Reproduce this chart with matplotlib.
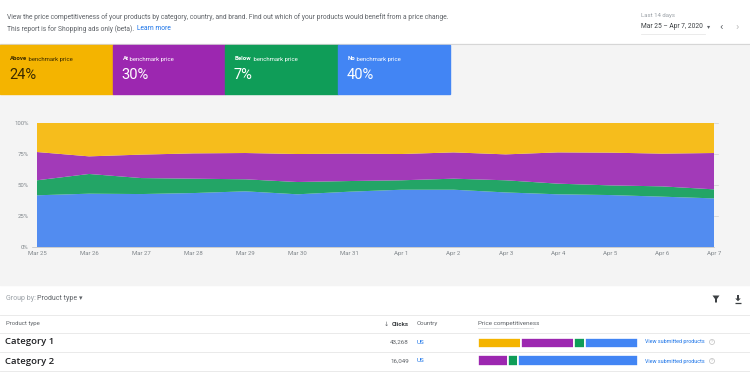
import matplotlib
matplotlib.use("Agg")
import matplotlib.pyplot as plt
from matplotlib.patches import Rectangle, Polygon
import numpy as np

plt.rcParams['font.family'] = ['Roboto', 'DejaVu Sans']

# ---------------- data ----------------
dates = ["Mar 25", "Mar 26", "Mar 27", "Mar 28", "Mar 29", "Mar 30", "Mar 31",
         "Apr 1", "Apr 2", "Apr 3", "Apr 4", "Apr 5", "Apr 6", "Apr 7"]
no_benchmark = [41.7, 43.0, 42.7, 43.5, 44.9, 42.5, 44.6, 46.2, 46.2, 44.0, 42.5, 41.9, 40.6, 39.2]
below = [12.1, 15.9, 12.9, 11.6, 9.7, 9.9, 8.6, 7.6, 8.9, 9.8, 8.6, 7.8, 8.3, 7.3]
at = [22.8, 14.2, 18.9, 20.4, 21.2, 22.6, 22.1, 21.2, 21.2, 20.9, 25.2, 26.4, 26.4, 29.3]
above = [23.4, 26.9, 25.5, 24.5, 24.2, 25.0, 24.7, 25.0, 23.7, 25.3, 23.7, 23.9, 24.7, 24.2]
y_ticks = [0, 25, 50, 75, 100]
y_tick_labels = ["0%", "25%", "50%", "75%", "100%"]

card_bold = ["Above", "At", "Below", "No"]
card_rest = [" benchmark price", " benchmark price", " benchmark price", " benchmark price"]
card_values = [24, 30, 7, 40]

categories = ["Category 1", "Category 2"]
clicks = ["43,268", "16,049"]
countries = ["US", "US"]
# share of each bucket in the table bars: above, at, below, none
row_above = [27, 0]
row_at = [33, 19]
row_below = [7, 6]
row_none = [33, 75]

# ---------------- styles ----------------
card_colors = ["#F4B400", "#9C27B0", "#0F9D58", "#4285F4"]
card_text_colors = ["#3a2a00", "white", "white", "white"]
chart_colors = ["#528CF0", "#23A566", "#A23AB8", "#F6BD1C"]  # none, below, at, above
bar_colors = ["#F4B400", "#9C27B0", "#0F9D58", "#4285F4"]
W, H = 750, 375

fig = plt.figure(figsize=(7.5, 3.75), dpi=100)
fig.patch.set_facecolor("white")

bg = fig.add_axes([0, 0, 1, 1])
bg.set_xlim(0, W)
bg.set_ylim(H, 0)
bg.axis("off")

# gray page body
bg.add_patch(Rectangle((0, 44), W, 241, color="#F4F4F4", zorder=0))
bg.plot([0, W], [44, 44], color="#D6D6D6", lw=0.8, zorder=1)

# header text
bg.text(7, 17, "View the price competitiveness of your products by category, country, and brand. "
        "Find out which of your products would benefit from a price change.",
        fontsize=4.9, color="#5f6368", va="center")
bg.text(7, 29, "This report is for Shopping ads only (beta).", fontsize=4.9,
        color="#5f6368", va="center")
bg.text(137, 29, "Learn more", fontsize=4.9, color="#1a73e8", va="center")

# date picker
bg.text(641, 16, "Last 14 days", fontsize=4.3, color="#9aa0a6", va="center")
bg.text(641, 27, "Mar 25 \u2013 Apr 7, 2020", fontsize=4.8, color="#3c4043", va="center")
bg.plot([641, 705], [34, 34], color="#E8E8E8", lw=0.6)
bg.text(709, 27, "\u25BE", fontsize=4.5, color="#5f6368", va="center", ha="center")
bg.text(721, 27, "\u2039", fontsize=8, color="#5f6368", va="center", ha="center")
bg.text(737, 27, "\u203A", fontsize=8, color="#bdbdbd", va="center", ha="center")

# KPI cards
card_w = 112.5
renderer = fig.canvas.get_renderer()
for i, v in enumerate(card_values):
    x0 = i * card_w
    bg.add_patch(Rectangle((x0, 45), card_w, 49, color=card_colors[i], zorder=2))
    tb = bg.text(x0 + 10, 59, card_bold[i], fontsize=4.3, fontweight="bold",
                 color=card_text_colors[i], va="center", zorder=3)
    bb = tb.get_window_extent(renderer=renderer)
    x_end = bg.transData.inverted().transform((bb.x1, bb.y0))[0]
    bg.text(x_end, 59, card_rest[i], fontsize=4.3, color=card_text_colors[i],
            va="center", zorder=3)
    bg.text(x0 + 9, 75, f"{v}%", fontsize=10.5, color=card_text_colors[i],
            va="center", zorder=3)

# ---------------- area chart ----------------
ax = fig.add_axes([37 / W, (H - 247) / H, 677 / W, 124 / H])
ax.set_facecolor("none")
x = np.arange(len(dates))
ax.stackplot(x, no_benchmark, below, at, above, colors=chart_colors, lw=0)
ax.set_xlim(0, len(dates) - 1)
ax.set_ylim(0, 100)
for s in ax.spines.values():
    s.set_visible(False)
ax.set_xticks(x)
ax.set_xticklabels(dates, fontsize=4.3, color="#80868b")
ax.set_yticks(y_ticks)
ax.set_yticklabels(y_tick_labels, fontsize=4.3, color="#80868b")
ax.tick_params(axis="x", length=0, pad=3)
ax.tick_params(axis="y", length=0, pad=6)
ax.axhline(0, color="#bdbdbd", lw=0.5, xmin=-0.008, clip_on=False)
for yt in y_ticks[1:]:
    ax.plot([len(dates) - 1, len(dates) - 0.93], [yt, yt], color="#d0d0d0", lw=0.5, clip_on=False)

# ---------------- table ----------------
bg.text(6, 299, "Group by:", fontsize=5.0, color="#9aa0a6", va="center")
bg.text(37, 299, "Product type", fontsize=5.0, color="#5f6368", va="center")
bg.text(81, 299, "\u25BE", fontsize=5, color="#5f6368", va="center", ha="center")
# filter icon (funnel) and download icon drawn as shapes
bg.add_patch(Polygon([(712.5, 295.5), (719.5, 295.5), (717, 299), (717, 302.5),
                      (715, 302.5), (715, 299)], closed=True, color="#3c4043", lw=0))
bg.add_patch(Polygon([(737, 295), (739, 295), (739, 298.5), (740.8, 298.5), (738, 301.2),
                      (735.2, 298.5), (737, 298.5)], closed=True, color="#3c4043", lw=0))
bg.plot([735, 741], [303, 303], color="#3c4043", lw=0.9, solid_capstyle="butt")

for yl in [315, 333, 352, 371]:
    bg.plot([0, W], [yl, yl], color="#E6E6E6", lw=0.6)

bg.text(6, 324, "Product type", fontsize=4.3, color="#5f6368", va="center")
bg.text(386, 324, "\u2193", fontsize=4.5, color="#5f6368", va="center", ha="center",
        family=["DejaVu Sans"])
bg.text(409, 324, "Clicks", fontsize=4.5, color="#3c4043", va="center", ha="right",
        fontweight="bold")
bg.text(417, 324, "Country", fontsize=4.5, color="#5f6368", va="center")
bg.text(478, 324, "Price competitiveness", fontsize=4.5, color="#5f6368", va="center")
bg.plot([478, 533], [327.5, 327.5], color="#9aa0a6", lw=0.4, ls=(0, (1, 1)))

row_y = [342, 361]
for i, cat in enumerate(categories):
    bg.text(5, row_y[i], cat, fontsize=6.8, color="#202124", va="center",
            family=["Open Sans", "DejaVu Sans"], fontweight="semibold")
    bg.text(409, row_y[i], clicks[i], fontsize=4.5, color="#5f6368", va="center", ha="right")
    bg.text(417, row_y[i], countries[i], fontsize=4.5, color="#1a73e8", va="center")
    bg.text(645, row_y[i], "View submitted products", fontsize=3.9, color="#1a73e8", va="center")
    bg.add_patch(plt.Circle((712, row_y[i]), 2.5, fill=False, ec="#bdbdbd", lw=0.5))
    bg.text(712, row_y[i], "?", fontsize=3.0, color="#bdbdbd", va="center", ha="center")

# table mini bars
tax = fig.add_axes([478 / W, (H - 369) / H, 160 / W, 35 / H])
tax.axis("off")
rows = np.arange(len(categories))
left = np.zeros(len(categories))
for vals, col in zip([row_above, row_at, row_below, row_none], bar_colors):
    vals = np.array(vals, dtype=float)
    tax.barh(rows, vals, left=left, height=0.6, color=col, edgecolor="white", lw=1.2)
    left += vals
tax.set_xlim(0, 100)
tax.set_ylim(1.5, -0.5)

fig.savefig("out.png", dpi=100, facecolor="white")
